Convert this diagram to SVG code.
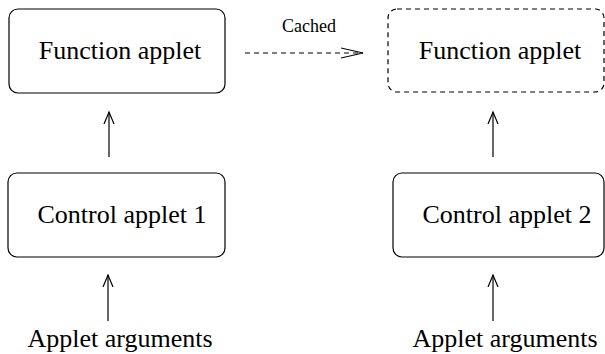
<svg xmlns="http://www.w3.org/2000/svg" width="605" height="354" viewBox="0 0 605 354">
<style>
.box{fill:none;stroke:#000;stroke-width:1.2}
.dash{stroke-dasharray:5 4}
.t{font-family:'Liberation Serif','Times New Roman',Times,serif;font-size:26px;fill:#000;text-anchor:middle}
.s{font-family:'Liberation Serif','Times New Roman',Times,serif;font-size:18px;fill:#000;text-anchor:middle}
.ln{fill:none;stroke:#000;stroke-width:1.2}
</style>
<defs>
<marker id="ah" markerWidth="16" markerHeight="16" refX="12" refY="5" orient="auto" markerUnits="userSpaceOnUse" viewBox="0 0 16 10">
<path d="M0,0 L12,5 L0,10" fill="none" stroke="#000" stroke-width="1.2"/>
</marker>
<marker id="ah2" markerWidth="24" markerHeight="12" refX="22" refY="6" orient="auto" markerUnits="userSpaceOnUse" viewBox="0 0 24 12">
<path d="M0,1 L22,6 L0,11" fill="none" stroke="#000" stroke-width="1.2"/>
</marker>
</defs>
<g id="func1">
<rect class="box" x="9" y="9" width="216" height="84" rx="9"/>
<text class="t" x="120" y="59" font-family="Liberation Serif">Function applet</text>
</g>
<g id="func2">
<rect class="box dash" x="388" y="9" width="216" height="83" rx="9"/>
<text class="t" x="500" y="59" font-family="Liberation Serif">Function applet</text>
</g>
<g id="ctrl1">
<rect class="box" x="8" y="173" width="217" height="84" rx="9"/>
<text class="t" x="122" y="223" font-family="Liberation Serif">Control applet 1</text>
</g>
<g id="ctrl2">
<rect class="box" x="393" y="173" width="211" height="84" rx="9"/>
<text class="t" x="507" y="223" font-family="Liberation Serif">Control applet 2</text>
</g>
<g id="args1">
<text class="t" x="120" y="347" font-family="Liberation Serif">Applet arguments</text>
</g>
<g id="args2">
<text class="t" x="505" y="347" font-family="Liberation Serif">Applet arguments</text>
</g>
<g id="connectors">
<line class="ln" x1="109" y1="157" x2="109" y2="112" marker-end="url(#ah)"/>
<line class="ln" x1="493" y1="157" x2="493" y2="112" marker-end="url(#ah)"/>
<line class="ln" x1="108" y1="321" x2="108" y2="275" marker-end="url(#ah)"/>
<line class="ln" x1="493" y1="321" x2="493" y2="275" marker-end="url(#ah)"/>
<line class="ln dash" x1="245" y1="53" x2="363" y2="53" stroke-dasharray="4 4" marker-end="url(#ah2)"/>
<text class="s" x="309" y="32" font-family="Liberation Serif">Cached</text>
</g>
</svg>
